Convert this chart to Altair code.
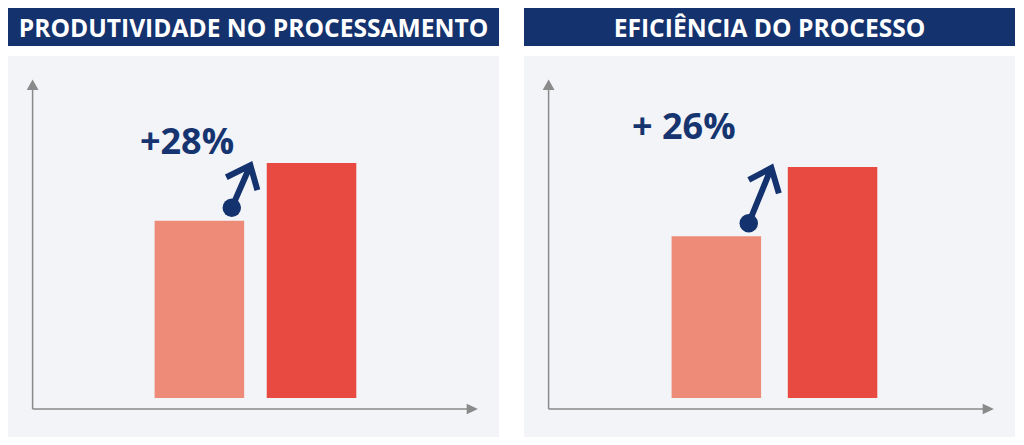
import altair as alt
import pandas as pd

# ---- data ----
categorias = ["Antes", "Depois"]
titulos = ["PRODUTIVIDADE NO PROCESSAMENTO", "EFICIÊNCIA DO PROCESSO"]
valores_produtividade = [184, 244]
valores_eficiencia = [168, 240]
rotulos = ["+28%", "+ 26%"]

# ---- styles ----
NAVY = "#13326e"
TXT = "#16346f"
GRAY_BG = "#f2f4f8"
AXIS = "#8a8a8a"
LIGHT = "#ee8a78"
RED = "#e84a42"
W, H = 491, 429
YSCALE = alt.Scale(domain=[0, 405], range=[390, 0])

UP_ARROW = "M0,-5.3L5.9,5.3L-5.9,5.3Z"
RIGHT_ARROW = "M5.6,0L-5.6,5.2L-5.6,-5.2Z"


def painel(titulo, valores, rotulo, faixa_x, pad_inner, txt_dx, txt_dy, seta):
    df = pd.DataFrame({"fase": categorias, "valor": valores})
    one = pd.DataFrame({"k": [0]})
    lab = pd.DataFrame({"fase": [categorias[0]], "valor": [valores[1]], "rotulo": [rotulo]})
    base_pt = pd.DataFrame({"fase": [categorias[0]], "valor": [valores[0]]})
    xs = alt.Scale(domain=categorias, range=faixa_x, paddingInner=pad_inner, paddingOuter=0)
    X = alt.X("fase:N", scale=xs, axis=None)
    Y = alt.Y("valor:Q", scale=YSCALE, axis=None)

    header = alt.Chart(one).mark_rect(color=NAVY).encode(
        x=alt.value(0), x2=alt.value(W), y=alt.value(0), y2=alt.value(38))
    fundo = alt.Chart(one).mark_rect(color=GRAY_BG).encode(
        x=alt.value(0), x2=alt.value(W), y=alt.value(48), y2=alt.value(H))
    titulo_txt = alt.Chart(pd.DataFrame({"t": [titulo]})).mark_text(
        font="Open Sans", fontWeight="bold", fontSize=24.6, color="white",
        baseline="alphabetic", align="center").encode(
        x=alt.value(W / 2), y=alt.value(29), text="t:N")
    eixo_y = alt.Chart(one).mark_rule(color=AXIS, strokeWidth=1.5).encode(
        x=alt.value(24.6), y=alt.value(80), y2=alt.value(401))
    eixo_x = alt.Chart(one).mark_rule(color=AXIS, strokeWidth=1.5).encode(
        x=alt.value(24.6), x2=alt.value(460), y=alt.value(401))
    ponta_y = alt.Chart(one).mark_point(shape=UP_ARROW, size=4, filled=True, color=AXIS, opacity=1).encode(
        x=alt.value(24.6), y=alt.value(76.7))
    ponta_x = alt.Chart(one).mark_point(shape=RIGHT_ARROW, size=4, filled=True, color=AXIS, opacity=1).encode(
        x=alt.value(464.3), y=alt.value(401))

    barras = alt.Chart(df).mark_bar().encode(
        x=X, y=Y,
        color=alt.Color("fase:N", scale=alt.Scale(domain=categorias, range=[LIGHT, RED]), legend=None))

    texto = alt.Chart(lab).mark_text(
        font="Open Sans", fontWeight="bold", fontSize=36, color=TXT,
        baseline="alphabetic", align="center", dx=txt_dx, dy=txt_dy).encode(
        x=X, y=Y, text="rotulo:N")

    ponto = alt.Chart(base_pt).mark_point(
        shape="circle", size=342, filled=True, color=NAVY, opacity=1,
        xOffset=32.4, yOffset=-13).encode(x=X, y=Y)
    haste = alt.Chart(base_pt).mark_point(
        shape=seta, size=4, filled=False, stroke=NAVY, strokeWidth=6, opacity=1,
        strokeJoin="miter", strokeCap="butt", xOffset=32.4, yOffset=-13).encode(x=X, y=Y)

    return alt.layer(header, fundo, titulo_txt, eixo_y, eixo_x, ponta_y, ponta_x,
                     barras, texto, haste, ponto).properties(width=W, height=H)


seta_esq = "M0,0L18.6,-42.5M-5.5,-30.6L18.6,-42.5L25.6,-17.7"
seta_dir = "M0,0L22.6,-55.3M0,-43.4L22.6,-55.3L30.1,-29.9"

esq = painel(titulos[0], valores_produtividade, rotulos[0], [146.6, 348.3], 0.2014, -12.4, -8.7, seta_esq)
dir_ = painel(titulos[1], valores_eficiencia, rotulos[1], [147.6, 353.3], 0.2298, -32.5, -27.9, seta_dir)

chart = alt.hconcat(esq, dir_, spacing=25).properties(padding=0).configure_view(stroke=None)

chart.save("out.html", embed_options={"renderer": "svg", "actions": False})
